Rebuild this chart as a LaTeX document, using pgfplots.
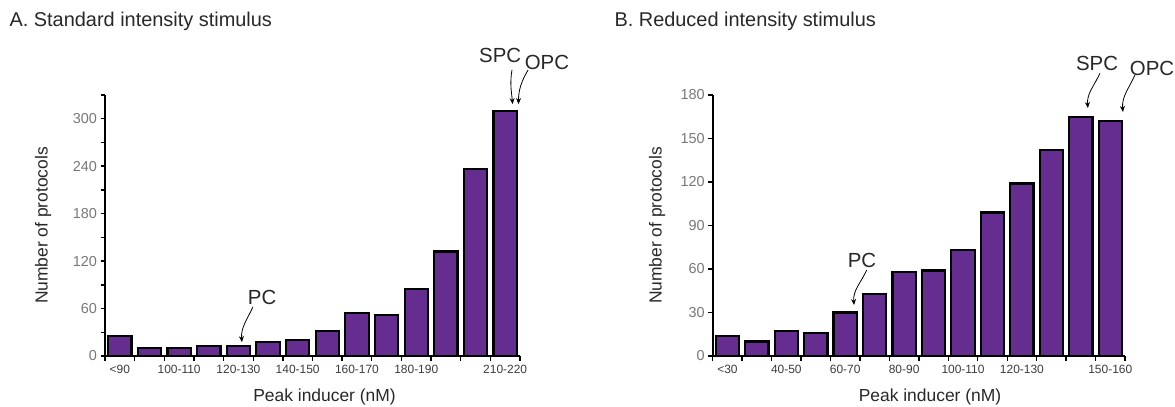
\documentclass[border=0pt]{standalone}
\usepackage{pgfplots}
\pgfplotsset{compat=1.18}
\usepackage{fontspec}
\setmainfont{Liberation Sans}
\usetikzlibrary{arrows.meta}
\definecolor{barpurple}{RGB}{102,45,145}
\definecolor{ticklab}{RGB}{120,120,120}
\definecolor{xlab}{RGB}{60,60,60}
\definecolor{txt}{RGB}{40,40,40}

\pgfplotstableread{
x y
0 25
1 10
2 10
3 13
4 13
5 18
6 20
7 32
8 54
9 52
10 85
11 132
12 236
13 310
}\dataA

\pgfplotstableread{
x y
0 14
1 10
2 17
3 16
4 30
5 43
6 58
7 59
8 73
9 99
10 119
11 142
12 165
13 162
}\dataB

\pgfplotsset{
  histstyle/.style={
    scale only axis,
    anchor=south west,
    ybar,
    bar width=23.3bp,
    axis x line*=bottom,
    axis y line*=left,
    axis line style={black, line width=1.6bp},
    xmin=-0.5, xmax=13.5,
    ymin=0,
    clip=false,
    tick align=outside,
    major tick length=4.5bp,
    minor tick length=4.5bp,
    tick style={black, line width=1.4bp},
    major x tick style={draw=none},
    minor xtick={-0.5,0.5,...,13.5},
    xticklabel style={font=\fontsize{12}{12}\selectfont, text=xlab, inner sep=1pt, yshift=-3bp},
    yticklabel style={font=\fontsize{14.5}{15}\selectfont, text=ticklab},
    /pgf/number format/assume math mode=true,
    scaled y ticks=false,
  },
}
\tikzset{
  arr/.style={-{Stealth[length=6bp,width=5bp]}, line width=0.8bp},
  annot/.style={font=\fontsize{20.5}{22}\selectfont, text=txt},
  alab/.style={font=\fontsize{17.5}{18}\selectfont, text=txt},
}

\begin{document}
\begin{tikzpicture}
\path[use as bounding box] (0,0) rectangle (1175bp,407bp);

\node[anchor=west, font=\fontsize{20}{22}\selectfont, text=txt] at (6bp,386bp) {A. Standard intensity stimulus};
\node[anchor=west, font=\fontsize{20}{22}\selectfont, text=txt] at (611bp,386bp) {B. Reduced intensity stimulus};

% Panel A
\begin{axis}[histstyle,
  at={(105bp,51bp)}, width=415bp, height=261bp,
  ymax=330,
  ytick={0,60,...,300},
  minor ytick={30,90,...,330},
  xtick={0,2,4,6,8,10,13},
  xticklabels={<90,100-110,120-130,140-150,160-170,180-190,210-220},
]
\addplot[fill=barpurple, draw=black, line width=2.2bp] table[x=x,y=y] {\dataA};
\node[rotate=90, alab] at (axis description cs:-0.149,0.5) {Number of protocols};
\node[alab] at (axis description cs:0.529,-0.157) {Peak inducer (nM)};
\node[annot] at (axis cs:4.80,74.6) {PC};
\draw[arr] (axis cs:4.49,62) to[out=-115,in=95] (axis cs:4.12,17.5);
\node[annot] at (axis cs:12.83,380.5) {SPC};
\node[annot] at (axis cs:14.41,371.7) {OPC};
\draw[arr] (axis cs:13.23,361.6) to[out=-100,in=95] (axis cs:13.25,318.5);
\draw[arr] (axis cs:13.77,361.6) to[out=-120,in=90] (axis cs:13.45,318.5);
\end{axis}

% Panel B
\begin{axis}[histstyle,
  at={(712.7bp,51bp)}, width=412.3bp, height=261bp,
  ymax=180,
  ytick={0,30,...,180},
  xtick={0,2,4,6,8,10,13},
  xticklabels={<30,40-50,60-70,80-90,100-110,120-130,150-160},
]
\addplot[fill=barpurple, draw=black, line width=2.2bp] table[x=x,y=y] {\dataB};
\node[rotate=90, alab] at (axis description cs:-0.135,0.5) {Number of protocols};
\node[alab] at (axis description cs:0.527,-0.157) {Peak inducer (nM)};
\node[annot] at (axis cs:4.57,66.2) {PC};
\draw[arr] (axis cs:4.73,59.3) to[out=-115,in=95] (axis cs:4.30,35.2);
\node[annot] at (axis cs:12.55,202) {SPC};
\node[annot] at (axis cs:14.42,198.6) {OPC};
\draw[arr] (axis cs:12.65,195) to[out=-115,in=95] (axis cs:12.24,171);
\draw[arr] (axis cs:13.84,193.8) to[out=-115,in=95] (axis cs:13.43,168.3);
\end{axis}
\end{tikzpicture}
\end{document}
